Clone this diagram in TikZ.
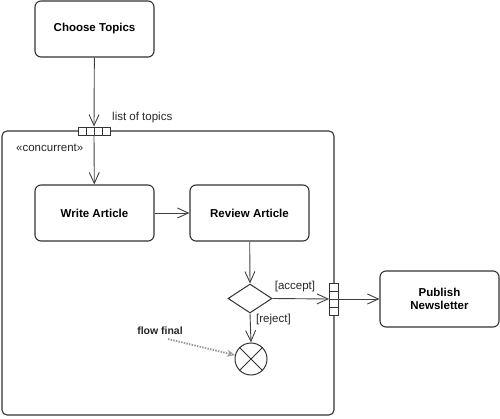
\documentclass[tikz,border=0pt]{standalone}
\usepackage{fontspec}
\setmainfont{Liberation Sans}
\usetikzlibrary{arrows.meta,shapes.geometric}
\tikzset{
  action/.style={draw=black!80, line width=1.1pt, rounded corners=6pt, fill=white,
    minimum width=119pt, minimum height=56pt, align=center, inner sep=2pt,
    font=\fontsize{11.5}{13.5}\selectfont\bfseries},
  arr/.style={draw=black!75, line width=0.9pt, -{Straight Barb[length=11pt,width=10pt,line width=0.9pt]}},
  conn/.style={draw=black!75, line width=0.9pt},
  lbl/.style={font=\fontsize{11.5}{13.5}\selectfont, inner sep=0pt, text=black!85},
  pinbox/.style={draw=black!80, line width=0.8pt, fill=white, inner sep=0pt},
}
\begin{document}
\begin{tikzpicture}[x=1pt,y=-1pt]
\useasboundingbox (0,0) rectangle (500,419);
% region
\node[draw=black!80, line width=1.1pt, rounded corners=5pt, minimum width=332pt, minimum height=284pt, inner sep=0pt] (region) at (168,273) {};
% actions
\node[action] (choose) at (94.5,29) {Choose Topics};
\node[action] (write) at (94.5,213) {Write Article};
\node[action] (review) at (249.5,213) {Review Article};
\node[action] (pub) at (439.5,299) {Publish\\Newsletter};
% pins
\node[pinbox, minimum width=32pt, minimum height=8pt] (pinA) at (94,131) {};
\foreach \dx in {-8,0,8} \draw[black!80, line width=0.8pt] ([xshift=\dx pt]pinA.north) -- ([xshift=\dx pt]pinA.south);
\node[pinbox, minimum width=9pt, minimum height=32pt] (pinB) at (334,299) {};
\foreach \dy in {-8,0,8} \draw[black!80, line width=0.8pt] ([yshift=-\dy pt]pinB.west) -- ([yshift=-\dy pt]pinB.east);
% decision and flow final
\node[draw=black!80, line width=1pt, diamond, aspect=1.5, minimum width=44pt, minimum height=29pt, inner sep=0pt, fill=white] (dec) at (250,298.5) {};
\node[draw=black!80, line width=1pt, circle, minimum size=32pt, inner sep=0pt] (ff) at (251,359) {};
\draw[black!80, line width=1pt] (ff.north west) -- (ff.south east);
\draw[black!80, line width=1pt] (ff.north east) -- (ff.south west);
% labels
\node[lbl, anchor=west] (lot) at (112,118) {list of topics};
\node[lbl, anchor=west] (conc) at (16,148) {«concurrent»};
\node[lbl] (acc) at (295,287) {[accept]};
\node[lbl, anchor=west] (rej) at (256,320) {[reject]};
\node[inner sep=0pt, font=\fontsize{10.5}{12}\selectfont\bfseries, text=black!85] (ffl) at (160,331) {flow final};
% connectors
\draw[arr] (choose) -- (pinA.north);
\draw[conn] (pinA.north) -- (pinA.south);
\draw[arr] (pinA.south) -- (write);
\draw[arr] (write) -- (review);
\draw[arr] (review) -- (dec.north);
\draw[arr] (dec.east) -- (pinB.west);
\draw[conn] (pinB.west) -- (pinB.east);
\draw[arr] (pinB.east) -- (pub);
\draw[arr] (dec.south) -- (ff.north);
\coordinate (fs) at (168,339);
\draw[black!40, line width=1.8pt, dash pattern=on 1.5pt off 1.2pt, -{Stealth[length=8pt,width=7pt,open,line width=1pt]}] (fs) -- (ff);
\end{tikzpicture}
\end{document}
